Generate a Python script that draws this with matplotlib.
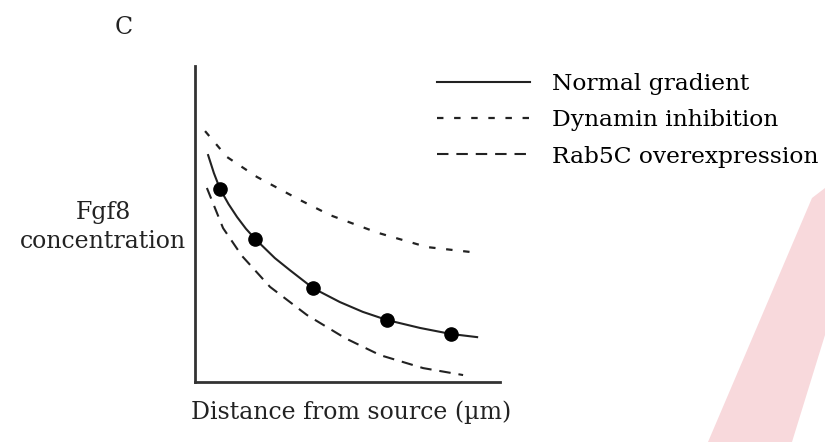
import matplotlib.pyplot as plt
from matplotlib.patches import Polygon

# values (arbitrary units, axes run 0-100)
normal_x = [4.3, 6.2, 8.2, 11.0, 13.8, 16.7, 19.7, 26.2, 31.1, 38.7, 47.5, 55.0, 63.0, 73.8, 83.9, 92.5]
normal_y = [71.8, 66.1, 61.1, 56.3, 52.2, 48.5, 45.3, 39.2, 35.4, 29.7, 25.3, 22.2, 19.6, 17.1, 15.2, 14.2]

measured_x = [8.2, 19.7, 38.7, 63.0, 83.9]
measured_y = [61.1, 45.3, 29.7, 19.6, 15.2]

dynamin_x = [3.3, 10.5, 20.3, 34.4, 44.3, 60.0, 76.1, 93.4]
dynamin_y = [79.4, 71.2, 64.9, 57.6, 52.8, 47.2, 42.7, 40.8]

rab5c_x = [3.9, 9.2, 15.4, 24.6, 36.7, 49.2, 60.7, 74.8, 87.9]
rab5c_y = [61.4, 48.7, 39.9, 30.1, 21.2, 13.9, 8.5, 4.4, 2.2]

labels = ["Normal gradient", "Dynamin inhibition", "Rab5C overexpression"]

plt.rcParams["font.family"] = ["DejaVu Serif"]
W, H = 825, 442
fig = plt.figure(figsize=(W / 100, H / 100), dpi=100)

# faint pink band on the right edge
band = [(708, 442), (792, 442), (825, 335), (825, 188), (812, 198)]
fig.patches.append(Polygon([(x / W, 1 - y / H) for x, y in band], closed=True,
                           transform=fig.transFigure, facecolor="#f8d9dc",
                           edgecolor="none", zorder=0))

ax = fig.add_axes([195 / W, 1 - 382 / H, 305 / W, 316 / H])
ax.patch.set_alpha(0)

ink = "#222222"
l1, = ax.plot(normal_x, normal_y, color=ink, lw=1.5)
ax.plot(measured_x, measured_y, "o", color="black", ms=9.5)
l2, = ax.plot(dynamin_x, dynamin_y, color=ink, lw=1.6, linestyle=(0, (2.9, 4.8)))
l3, = ax.plot(rab5c_x, rab5c_y, color=ink, lw=1.5, linestyle=(0, (5.5, 3.8)))

ax.set_xlim(0, 100)
ax.set_ylim(0, 100)
ax.spines[["top", "right"]].set_visible(False)
for s in ["left", "bottom"]:
    ax.spines[s].set_linewidth(2)
    ax.spines[s].set_color("#333333")
ax.set_xticks([])
ax.set_yticks([])

fs = 17
fig.legend([l1, l2, l3], labels, loc="upper left",
           bbox_to_anchor=(425 / W, 1 - 61 / H), frameon=False,
           fontsize=16.8, handlelength=4.0, handletextpad=0.95, labelspacing=0.62,
           borderpad=0)

fig.text(124 / W, 1 - 28 / H, "C", fontsize=fs, ha="center", va="center", color=ink)
fig.text(103 / W, 1 - 227 / H, "Fgf8\nconcentration", fontsize=fs,
         ha="center", va="center", multialignment="center", color=ink,
         linespacing=1.3)
fig.text(351 / W, 1 - 412 / H, "Distance from source (µm)", fontsize=fs,
         ha="center", va="center", color=ink)

fig.savefig("out.png", dpi=100)
